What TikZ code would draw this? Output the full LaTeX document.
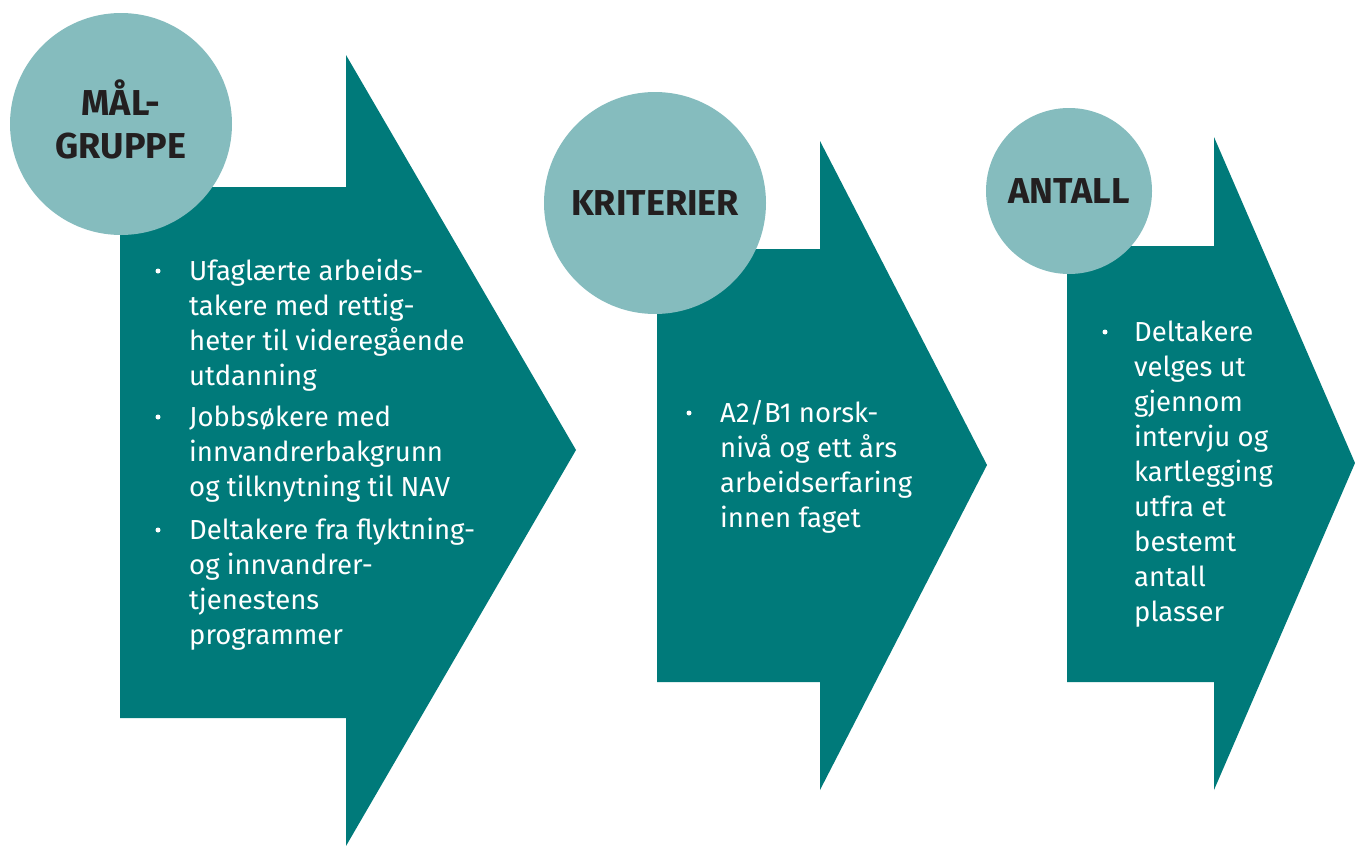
\documentclass[tikz,border=0pt]{standalone}
\usepackage{fontspec}
\setmainfont{Fira Sans}
\definecolor{arrowteal}{HTML}{007A7A}
\definecolor{circlefill}{HTML}{85BCBE}
\definecolor{headtext}{HTML}{231F20}
\begin{document}
\begin{tikzpicture}[x=1pt,y=-1pt,
  arrowshape/.style={fill=arrowteal, draw=none},
  circ/.style={circle, fill=circlefill, draw=none, inner sep=0pt, minimum size=#1},
  head/.style={font=\fontsize{36}{43}\selectfont\bfseries, text=headtext, align=center},
  body/.style={font=\fontsize{27.5}{35}\selectfont, text=white, align=left, anchor=base west, inner sep=0pt},
  bulletdot/.style={circle, fill=white, draw=none, inner sep=0pt, minimum size=5pt}]
\useasboundingbox (0,0) rectangle (1355,846);
% arrows
\path[arrowshape] (120,187) -- (346,187) -- (346,55) -- (576,450) -- (346,846) -- (346,718) -- (120,718) -- cycle;
\path[arrowshape] (657,249) -- (820,249) -- (820,141) -- (987,465) -- (820,790) -- (820,682) -- (657,682) -- cycle;
\path[arrowshape] (1067,246) -- (1214,246) -- (1214,137) -- (1355,463) -- (1214,790) -- (1214,682) -- (1067,682) -- cycle;
% circles
\node[circ=222pt] (c1) at (121,124) {};
\node[head, inner sep=0pt] (h1) at ([yshift=5pt]c1.center) {MÅL-\\GRUPPE};
\node[circ=222pt, head] (c2) at (655,203) {KRITERIER};
\node[circ=166pt, head] (c3) at (1069,191) {ANTALL};
% arrow 1 text (base anchor = last line baseline)
\node[bulletdot] (d11) at (158,271) {};
\node[body] (t11) at (189,385) {Ufaglærte arbeids-\\takere med rettig-\\heter til videregående\\utdanning};
\node[bulletdot] (d12) at (158,417) {};
\node[body] (t12) at (189,496) {Jobbsøkere med\\innvandrerbakgrunn\\og tilknytning til NAV};
\node[bulletdot] (d13) at (158,530) {};
\node[body] (t13) at (189,644) {Deltakere fra flyktning-\\og innvandrer-\\tjenestens\\programmer};
% arrow 2 text
\node[bulletdot] (d21) at (689,413) {};
\node[body] (t21) at (720,527) {A2/B1 norsk-\\nivå og ett års\\arbeidserfaring\\innen faget};
% arrow 3 text
\node[bulletdot] (d31) at (1105,332) {};
\node[body] (t31) at (1134,621) {Deltakere\\velges ut\\gjennom\\intervju og\\kartlegging\\utfra et\\bestemt\\antall\\plasser};
\end{tikzpicture}
\end{document}
